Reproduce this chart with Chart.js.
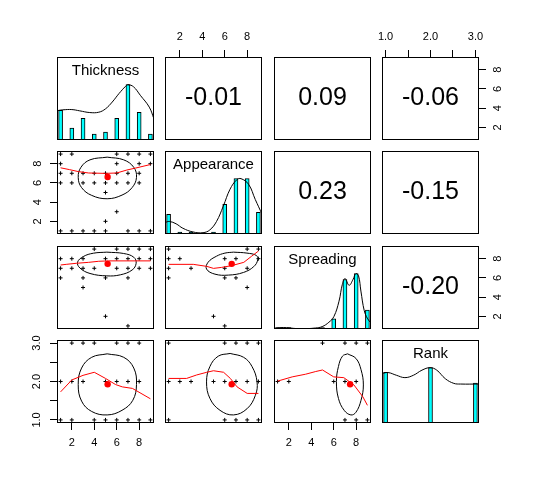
<!DOCTYPE html>
<html lang="en">
<head>
  <meta charset="UTF-8">
  <title>Pairs panels</title>
  <script src="https://cdn.jsdelivr.net/npm/chart.js"></script>
  <style>
body {
  margin: 0;
  background: #ffffff;
}

#wrap {
  position: relative;
  width: 536px;
  height: 480px;
  background: #ffffff;
}

#wrap canvas {
  position: absolute;
}
  </style>
</head>
<body>
  <div id="wrap"></div>

  <script>
    // Variables and their scales
    const varNames = ['Thickness', 'Appearance', 'Spreading', 'Rank'];
    const scoreLevels = [1, 2, 3, 4, 5, 6, 7, 8, 9];
    const rankLevels = [1, 2, 3];
    const scoreRange = [1, 9];
    const rankRange = [1, 3];
    const scoreTicks = [2, 4, 6, 8];
    const rankTicks = [1, 1.5, 2, 2.5, 3];

    // Histogram counts per level
    const thicknessCounts = [15, 6, 11, 3, 4, 11, 28, 14, 3];
    const appearanceCounts = [10, 1, 1, 0, 1, 15, 28, 28, 11];
    const spreadingCounts = [1, 1, 0, 0, 1, 7, 34, 38, 13];
    const rankCounts = [33, 36, 26];

    // Density curves (scaled so the peak is 1)
    const thicknessDensity = [[0.68, 0.53], [1.2, 0.545], [2.0, 0.55], [2.7, 0.527], [3.6, 0.496], [4.4, 0.502], [5.0, 0.563],
      [5.6, 0.686], [6.2, 0.839], [6.8, 0.973], [7.0, 1.0], [7.5, 0.961], [8.1, 0.808], [8.9, 0.594], [9.32, 0.38]];
    const appearanceDensity = [[0.68, 0.208], [1.07, 0.227], [1.67, 0.184], [2.27, 0.104], [3.17, 0.037], [4.07, 0.024],
      [4.67, 0.073], [5.27, 0.227], [5.87, 0.502], [6.47, 0.808], [7.07, 0.98], [7.45, 1.0], [8.12, 0.9], [8.72, 0.624], [9.32, 0.36]];
    const spreadingDensity = [[0.68, 0.01], [1.2, 0.025], [1.8, 0.025], [2.4, 0.012], [3.2, 0.004], [4.37, 0.018], [4.97, 0.043],
      [5.57, 0.122], [6.02, 0.227], [6.47, 0.502], [6.77, 0.808], [7.01, 0.912], [7.37, 0.79], [7.73, 0.9], [7.97, 1.0],
      [8.21, 0.961], [8.42, 0.686], [8.72, 0.331], [9.02, 0.184], [9.32, 0.11]];
    const rankDensity = [[0.92, 0.894], [1.055, 0.912], [1.24, 0.863], [1.43, 0.82], [1.62, 0.863], [1.81, 0.955], [1.99, 1.0],
      [2.14, 0.955], [2.33, 0.8], [2.52, 0.716], [2.67, 0.704], [3.08, 0.704]];

    // Means (red dots)
    const means = [5.19, 6.62, 7.46, 1.93];

    // Correlations [row var, col var, r]
    const corrs = [[0, 1, -0.01], [0, 2, 0.09], [0, 3, -0.06], [1, 2, 0.23], [1, 3, -0.15], [2, 3, -0.20]];

    // Scatter points: [y level, x levels seen at that y]
    const ptsAppThick = [[9, [1, 2, 6, 7, 8, 9]], [8, [1, 6, 8, 9]], [7, [1, 2, 3, 4, 5, 6, 7, 8]], [6, [1, 2, 3, 4, 5, 6, 7, 8]],
      [5, [5]], [3, [6]], [2, [5]], [1, [1, 2, 3, 4, 5, 7, 8, 9]]];
    const ptsSprThick = [[9, [4, 6, 7, 8, 9]], [8, [1, 2, 3, 5, 6, 7, 8, 9]], [7, [1, 2, 3, 4, 6, 7, 8, 9]], [6, [1, 3, 5, 7]],
      [5, [3]], [2, [5]], [1, [7]]];
    const ptsSprApp = [[9, [1, 8, 9]], [8, [1, 2, 6, 7, 9]], [7, [1, 3, 6, 8]], [6, [1, 6, 7]], [5, [8]], [2, [5]], [1, [6]]];
    const ptsRankThick = [[3, [2, 3, 4, 6, 7, 8]], [2, [1, 2, 3, 5, 6, 7, 8]], [1, [1, 2, 4, 5, 6, 7, 8, 9]]];
    const ptsRankApp = [[3, [1, 6, 7, 8, 9]], [2, [1, 2, 3, 5, 6, 7, 8, 9]], [1, [1, 6, 7, 8, 9]]];
    const ptsRankSpr = [[3, [5, 7, 8, 9]], [2, [1, 2, 6, 7, 8]], [1, [7, 8, 9]]];

    // Correlation ellipses (read around the outline)
    const ellAppThick = [[5.15, 8.68], [6.62, 8.40], [7.52, 7.62], [7.76, 6.57], [7.37, 5.51], [6.47, 4.73], [5.15, 4.35],
      [3.77, 4.70], [2.87, 5.51], [2.57, 6.57], [2.81, 7.62], [3.62, 8.40]];
    const ellSprThick = [[5.12, 8.68], [6.62, 8.54], [7.52, 8.15], [7.73, 7.52], [7.37, 6.82], [6.32, 6.32], [5.12, 6.21],
      [3.62, 6.46], [2.72, 7.03], [2.51, 7.63], [3.02, 8.22], [3.92, 8.57]];
    const ellSprApp = [[6.78, 8.68], [7.98, 8.58], [8.82, 8.33], [8.94, 7.87], [8.58, 7.17], [7.68, 6.57], [6.33, 6.29],
      [5.13, 6.39], [4.38, 6.92], [4.52, 7.63], [5.27, 8.26], [6.02, 8.58]];
    const ellRankThick = [[5.15, 2.72], [6.62, 2.63], [7.52, 2.35], [7.76, 1.92], [7.43, 1.51], [6.47, 1.25], [5.15, 1.13],
      [3.77, 1.22], [2.87, 1.49], [2.57, 1.92], [2.87, 2.35], [3.77, 2.63]];
    const ellRankApp = [[6.48, 2.73], [7.68, 2.63], [8.43, 2.39], [8.88, 1.99], [8.73, 1.64], [7.98, 1.29], [6.78, 1.13],
      [5.58, 1.25], [4.68, 1.56], [4.38, 1.99], [4.68, 2.39], [5.43, 2.66]];
    const ellRankSpr = [[7.23, 2.72], [7.98, 2.60], [8.43, 2.31], [8.64, 1.91], [8.43, 1.51], [7.98, 1.20], [7.53, 1.13],
      [6.93, 1.25], [6.42, 1.56], [6.24, 2.00], [6.42, 2.39], [6.78, 2.66]];

    // Smoothers (red lines)
    const loessAppThick = [[1, 7.57], [1.8, 7.38], [2.6, 7.17], [3.5, 7.03], [5, 6.99], [6, 7.03], [6.9, 7.34], [7.7, 7.55], [9, 7.91]];
    const loessSprThick = [[1, 7.34], [1.5, 7.41], [2.4, 7.52], [3.5, 7.62], [4.4, 7.73], [5.3, 7.77], [9, 7.77]];
    const loessSprApp = [[1, 7.41], [3.2, 7.41], [4.4, 7.2], [5.0, 6.99], [5.7, 7.09], [6.6, 7.27], [7.7, 7.62], [8.4, 8.26], [9, 8.79]];
    const loessRankThick = [[1, 1.73], [2, 2.04], [3, 2.16], [4, 2.24], [5, 2.08], [5.9, 1.92], [6.5, 1.86], [7.4, 1.82], [9, 1.55]];
    const loessRankApp = [[1, 2.08], [2.6, 2.08], [3.5, 2.17], [4.4, 2.24], [5, 2.28], [5.9, 2.24], [6.5, 2.08], [7.1, 1.86], [8, 1.69], [9, 1.69]];
    const loessRankSpr = [[1, 2.01], [2.3, 2.12], [3.5, 2.19], [4.4, 2.26], [5, 2.3], [6, 2.12], [6.9, 2.1], [7.8, 1.91], [8.6, 1.6], [9, 1.38]];

    // Panel layout
    const colLeft = [57, 165, 274, 382];
    const rowTop = [57, 151, 246, 340];
    const boxW = 97, boxH = 83, M = 30;
    const FONT = '"Liberation Sans", Arial, Helvetica, sans-serif';

    Chart.defaults.font.family = FONT;
    Chart.defaults.color = '#000';
    Chart.defaults.animation = false;
    Chart.defaults.events = [];
    Chart.defaults.plugins.legend.display = false;
    Chart.defaults.plugins.tooltip.enabled = false;

    // draws the panel box and the label / correlation text
    const panelPlugin = {
      id: 'panel',
      afterDraw(chart, args, opts) {
        const { ctx, chartArea: a } = chart;
        ctx.save();
        ctx.strokeStyle = '#000';
        ctx.lineWidth = 1;
        ctx.strokeRect(Math.round(a.left) + 0.5, Math.round(a.top) + 0.5, Math.round(a.width) - 1, Math.round(a.height) - 1);
        if (opts.text) {
          ctx.fillStyle = '#000';
          ctx.font = opts.size + 'px ' + FONT;
          ctx.textAlign = 'center';
          ctx.textBaseline = 'middle';
          const y = opts.dy ? a.top + opts.dy : (a.top + a.bottom) / 2;
          ctx.fillText(opts.text, (a.left + a.right) / 2, y);
        }
        ctx.restore();
      }
    };

    function rangeOf(v) {
      const r = v === 3 ? rankRange : scoreRange;
      const pad = (r[1] - r[0]) * 0.04;
      return [r[0] - pad, r[1] + pad];
    }

    function axis(v, pos, show) {
      const [lo, hi] = rangeOf(v);
      const vertical = pos === 'left' || pos === 'right';
      return {
        type: 'linear', position: pos, display: show, min: lo, max: hi, offset: false,
        afterBuildTicks: s => { s.ticks = (v === 3 ? rankTicks : scoreTicks).map(t => ({ value: t })); },
        afterFit: s => {
          if (!show) return;
          if (vertical) s.width = M; else s.height = M;
        },
        border: { display: false },
        grid: { drawOnChartArea: false, tickLength: 7, color: '#000', lineWidth: 1, offset: false },
        ticks: {
          autoSkip: false,
          font: { size: 11 },
          color: '#000',
          padding: vertical ? (v === 3 ? 5 : 9) : 6,
          minRotation: vertical ? 90 : 0,
          maxRotation: vertical ? 90 : 0,
          crossAlign: vertical ? 'center' : 'near',
          callback: val => v === 3 ? (Number.isInteger(val) ? val.toFixed(1) : '') : String(val)
        }
      };
    }

    const wrap = document.getElementById('wrap');
    const toXY = arr => arr.map(([x, y]) => ({ x, y }));
    const expand = rows => rows.flatMap(([y, xs]) => xs.map(x => ({ x, y })));

    function makePanel(r, c, type, datasets, label) {
      const cv = document.createElement('canvas');
      cv.width = boxW + 2 * M;
      cv.height = boxH + 2 * M;
      cv.style.left = (colLeft[c] - M) + 'px';
      cv.style.top = (rowTop[r] - M) + 'px';
      wrap.appendChild(cv);

      const xTop = r === 0 && (c === 1 || c === 3);
      const xBottom = r === 3 && (c === 0 || c === 2);
      const yLeft = c === 0 && (r === 1 || r === 3);
      const yRight = c === 3 && (r === 0 || r === 2);

      const x = axis(c, xTop ? 'top' : 'bottom', xTop || xBottom);
      const y = r === c
        ? { type: 'linear', display: false, min: 0, max: 1.5 }
        : axis(r, yRight ? 'right' : 'left', yLeft || yRight);

      new Chart(cv, {
        type: type,
        data: { datasets: datasets },
        options: {
          responsive: false,
          maintainAspectRatio: false,
          layout: { padding: { left: yLeft ? 0 : M, right: yRight ? 0 : M, top: xTop ? 0 : M, bottom: xBottom ? 0 : M } },
          scales: { x: x, y: y },
          plugins: { panel: label || {} }
        },
        plugins: [panelPlugin]
      });
    }

    // Diagonal: histograms with density
    const histCounts = [thicknessCounts, appearanceCounts, spreadingCounts, rankCounts];
    const densities = [thicknessDensity, appearanceDensity, spreadingDensity, rankDensity];
    for (let i = 0; i < 4; i++) {
      const lv = i === 3 ? rankLevels : scoreLevels;
      const cnt = histCounts[i];
      const mx = Math.max(...cnt);
      const bars = lv.map((x, k) => ({ x: x, y: cnt[k] / mx })).filter(b => b.y > 0);
      makePanel(i, i, 'bar', [
        { type: 'line', data: toXY(densities[i]), borderColor: '#000', borderWidth: 1, pointRadius: 0, tension: 0.4, fill: false },
        { type: 'bar', data: bars, backgroundColor: '#00FFFF', borderColor: '#000', borderWidth: 1, barThickness: 4 }
      ], { text: varNames[i], size: 15, dy: 14 });
    }

    // Upper: correlations
    corrs.forEach(([r, c, v]) => {
      makePanel(r, c, 'scatter', [], { text: v.toFixed(2), size: 25 });
    });

    // Lower: scatter + ellipse + smoother + mean
    const lowerPanels = [
      [1, 0, ptsAppThick, ellAppThick, loessAppThick],
      [2, 0, ptsSprThick, ellSprThick, loessSprThick],
      [2, 1, ptsSprApp, ellSprApp, loessSprApp],
      [3, 0, ptsRankThick, ellRankThick, loessRankThick],
      [3, 1, ptsRankApp, ellRankApp, loessRankApp],
      [3, 2, ptsRankSpr, ellRankSpr, loessRankSpr]
    ];
    lowerPanels.forEach(([r, c, pts, ell, lo]) => {
      makePanel(r, c, 'scatter', [
        { data: [{ x: means[c], y: means[r] }], pointRadius: 3.2, pointBackgroundColor: '#FF0000', pointBorderColor: '#FF0000', pointBorderWidth: 0 },
        { data: toXY(lo), showLine: true, borderColor: '#FF0000', borderWidth: 1, pointRadius: 0 },
        { data: toXY(ell.concat([ell[0]])), showLine: true, borderColor: '#000', borderWidth: 1, pointRadius: 0, tension: 0.4 },
        { data: expand(pts), pointStyle: 'cross', pointRadius: 2, pointBorderColor: '#000', pointBorderWidth: 1 }
      ]);
    });
  </script>
</body>
</html>
